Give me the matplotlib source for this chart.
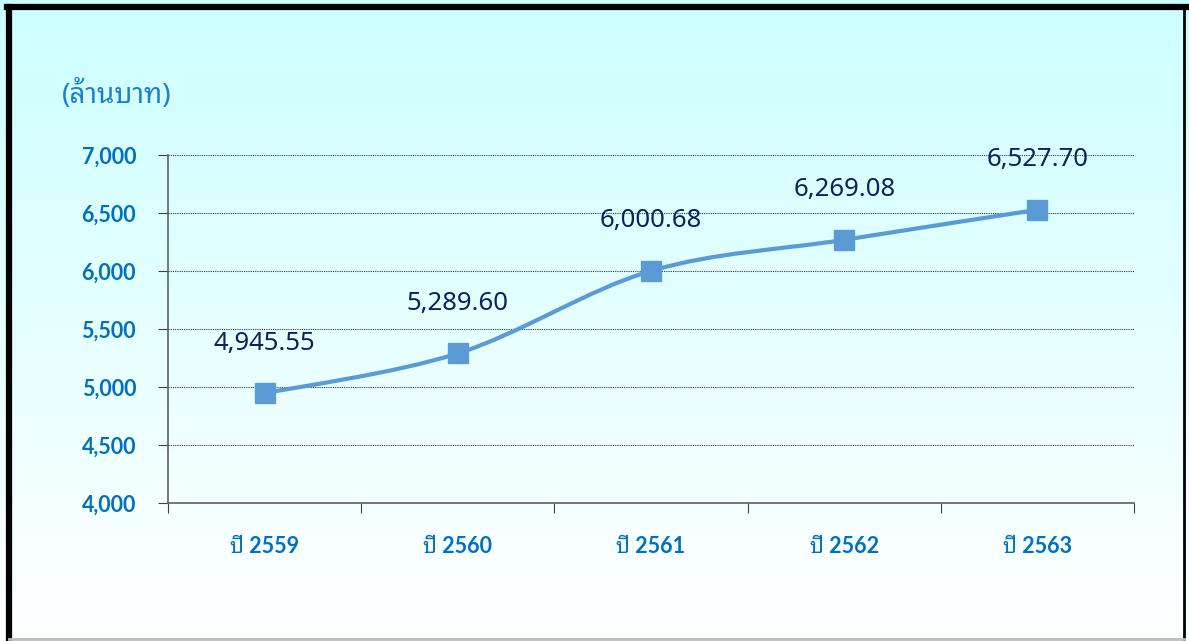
import matplotlib
matplotlib.use("Agg")
import matplotlib.pyplot as plt
import numpy as np
from matplotlib.path import Path
from matplotlib.patches import PathPatch
from matplotlib.lines import Line2D

years = ["ปี 2559", "ปี 2560", "ปี 2561", "ปี 2562", "ปี 2563"]
values = [4945.55, 5289.60, 6000.68, 6269.08, 6527.70]
value_labels = ["4,945.55", "5,289.60", "6,000.68", "6,269.08", "6,527.70"]
y_ticks = [4000, 4500, 5000, 5500, 6000, 6500, 7000]
unit_label = "(ล้านบาท)"

NUM_FONT = ["Noto Sans", "Noto Sans Thai Looped", "DejaVu Sans"]
TICK_FONT = ["Lato", "Noto Sans Thai Looped", "DejaVu Sans"]
THAI_FONT = ["Noto Sans Thai Looped", "Noto Sans", "DejaVu Sans"]
plt.rcParams["font.family"] = NUM_FONT

BLUE = "#0070C0"
NAVY = "#0B2160"
LINE = "#5B9BD5"

fig = plt.figure(figsize=(11.89, 6.41), dpi=100)

# gradient background
bg = fig.add_axes([0, 0, 1, 1], zorder=-10)
grad = np.linspace(0, 1, 256).reshape(-1, 1)
top = np.array([0.80, 1.0, 1.0])
bot = np.array([1.0, 1.0, 1.0])
img = top * (1 - grad[..., None]) + bot * grad[..., None]
bg.imshow(img, aspect="auto", extent=[0, 1, 0, 1])
bg.set_xlim(0, 1)
bg.set_ylim(0, 1)
bg.axis("off")

# frame
fig.add_artist(Line2D([9 / 1189, 9 / 1189], [0, 1 - 7 / 641], color="black", lw=4.5, transform=fig.transFigure))
fig.add_artist(Line2D([7 / 1189, 1186 / 1189], [1 - 7 / 641, 1 - 7 / 641], color="black", lw=4.5, transform=fig.transFigure))
fig.add_artist(Line2D([1184 / 1189, 1184 / 1189], [0, 1 - 7 / 641], color="black", lw=2, transform=fig.transFigure))
fig.add_artist(Line2D([9 / 1189, 1184 / 1189], [2 / 641, 2 / 641], color="#BBBBBB", lw=2, transform=fig.transFigure))

ax = fig.add_axes([168 / 1189, 1 - 503 / 641, (1134 - 168) / 1189, (503 - 155) / 641])
ax.set_facecolor("none")

x = np.arange(len(values))
y = np.array(values)

# smoothed line (Excel-like bezier through the points)
pts = np.column_stack([x, y]).astype(float)
verts = [pts[0]]
codes = [Path.MOVETO]
n = len(pts)
for i in range(n - 1):
    p0 = pts[max(i - 1, 0)]
    p1 = pts[i]
    p2 = pts[i + 1]
    p3 = pts[min(i + 2, n - 1)]
    c1 = p1 + (p2 - p0) / 6
    c2 = p2 - (p3 - p1) / 6
    verts += [c1, c2, p2]
    codes += [Path.CURVE4] * 3
ax.add_patch(PathPatch(Path(verts, codes), facecolor="none", edgecolor=LINE, lw=3, zorder=3))
ax.plot(x, y, linestyle="none", marker="s", markersize=15, color=LINE, zorder=4)

for xi, yi, lab in zip(x, y, value_labels):
    ax.annotate(lab, (xi, yi), xytext=(0, 36), textcoords="offset points",
                ha="center", va="center", fontsize=18.5, color=NAVY)

ax.set_xlim(-0.5, len(values) - 0.5)
ax.set_ylim(4000, 7000)
ax.set_yticks(y_ticks)
ax.set_yticklabels([f"{v:,}" for v in y_ticks])
ax.yaxis.grid(True, linestyle=(0, (1, 1)), color="#333333", lw=0.8)
ax.set_axisbelow(True)

ax.set_xticks(np.arange(-0.5, len(values), 1.0))
ax.set_xticklabels([])
ax.set_xticks(x, minor=True)
ax.set_xticklabels(years, minor=True)
ax.tick_params(axis="x", which="major", direction="out", length=7, color="#404040")
ax.tick_params(axis="x", which="minor", length=0, pad=24, labelsize=15.5, labelcolor=BLUE)
ax.tick_params(axis="y", direction="out", length=7, color="#404040", pad=16, labelsize=15.5, labelcolor=BLUE)
for t in ax.get_yticklabels() + ax.get_xticklabels(minor=True):
    t.set_family(TICK_FONT)
    t.set_fontweight("bold")

for s in ["top", "right"]:
    ax.spines[s].set_visible(False)
for s in ["left", "bottom"]:
    ax.spines[s].set_color("#606060")
    ax.spines[s].set_linewidth(1.2)

fig.text(62 / 1189, 1 - 95 / 641, unit_label, fontsize=20, color="#1A7FCC",
         va="center", ha="left", family=THAI_FONT, fontweight="light")

fig.savefig("out.png", dpi=100)
